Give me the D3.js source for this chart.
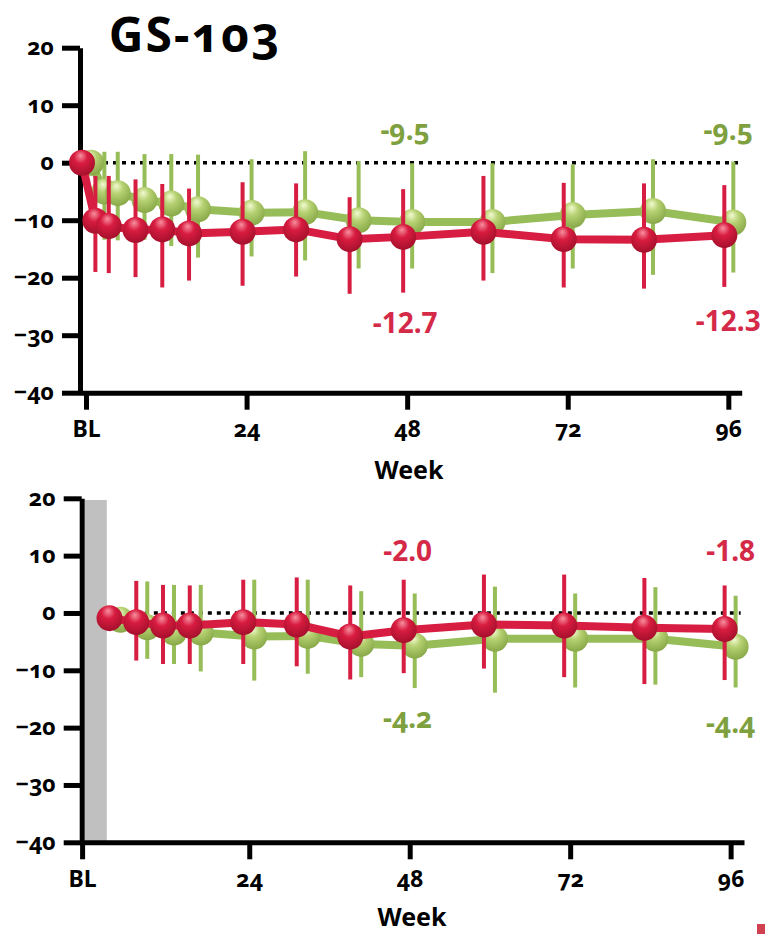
<!DOCTYPE html>
<html lang="en">
	<head>
		<meta charset="utf-8">
		<title>GS-103 change from baseline by week</title>
		<script type="text/javascript" src="https://d3js.org/d3.v7.min.js"></script>
		<style type="text/css">
			body {
				background-color: white;
				font-family: "Noto Sans", "Open Sans", sans-serif;
				margin: 0;
			}
			svg text {
				font-variant-numeric: oldstyle-nums;
			}
		</style>
	</head>
	<body>
		<script type="text/javascript">
			// weeks (0 = BL)
			var topWeeks = [0, 2, 4, 8, 12, 16, 24, 32, 40, 48, 60, 72, 84, 96];
			var bottomWeeks = [4, 8, 12, 16, 24, 32, 40, 48, 60, 72, 84, 96];

			// top panel, red series: mean and error bar ends
			var topRed   = [0, -10.1, -11.0, -11.7, -11.6, -12.3, -12.0, -11.6, -13.3, -12.9, -12.0, -13.3, -13.4, -12.6];
			var topRedHi = [0, -2.3, -2.3, -2.9, -3.7, -4.5, -3.4, -3.6, -6.0, -4.6, -2.3, -3.5, -3.6, -3.9];
			var topRedLo = [0, -19.0, -19.2, -19.9, -21.7, -20.5, -21.4, -19.8, -22.8, -22.6, -20.5, -21.7, -21.9, -21.6];

			// top panel, green series
			var topGreen   = [0, -5.0, -5.3, -6.5, -7.1, -8.1, -8.7, -8.6, -10.0, -10.3, -10.3, -9.1, -8.4, -10.4];
			var topGreenHi = [0, 1.9, 1.9, 1.5, 1.5, 1.4, 0.6, 2.0, 0.3, -0.1, -0.1, -0.3, 0.6, 0.2];
			var topGreenLo = [0, -13.4, -13.5, -13.4, -14.5, -16.5, -16.3, -17.0, -18.4, -18.4, -19.2, -18.4, -19.5, -19.1];

			// bottom panel, red series
			var botRed   = [-0.9, -1.6, -2.2, -2.2, -1.6, -2.0, -4.1, -3.0, -2.0, -2.2, -2.6, -2.8];
			var botRedHi = [-0.9, 5.6, 4.9, 4.8, 5.8, 6.2, 4.8, 5.8, 6.7, 6.7, 6.1, 4.8];
			var botRedLo = [-0.9, -8.3, -8.9, -8.9, -8.9, -9.3, -11.6, -10.5, -9.7, -11.2, -12.4, -11.7];

			// bottom panel, green series
			var botGreen   = [-1.2, -2.5, -3.4, -3.4, -4.1, -4.0, -5.4, -5.7, -4.5, -4.5, -4.5, -5.9];
			var botGreenHi = [-1.2, 5.5, 4.9, 4.9, 5.8, 5.8, 3.8, 3.4, 4.6, 3.4, 4.5, 3.0];
			var botGreenLo = [-1.2, -8.0, -8.9, -10.2, -11.8, -10.6, -11.2, -13.1, -13.9, -13.0, -12.5, -13.0];

			// annotated values at weeks 48 and 96
			var labelWeeks = [48, 96];
			var topRedLabels = ["-12.7", "-12.3"];
			var topGreenLabels = ["-9.5", "-9.5"];
			var botRedLabels = ["-2.0", "-1.8"];
			var botGreenLabels = ["-4.2", "-4.4"];

			// axes
			var yTicks = [20, 10, 0, -10, -20, -30, -40];
			var xTicks = [24, 48, 72, 96];
			var shadeWeeks = [-0.6, 2.7];

			var RED = "#d71d41";
			var GREEN = "#97bd58";

			var w = 765, h = 934;
			var svg = d3.select("body").append("svg")
				.attr("width", w)
				.attr("height", h);

			// sphere gradients
			var defs = svg.append("defs");
			function sphere(id, c0, c1, c2) {
				var g = defs.append("radialGradient")
					.attr("id", id)
					.attr("cx", "45%").attr("cy", "35%").attr("r", "65%")
					.attr("fx", "45%").attr("fy", "22%");
				g.append("stop").attr("offset", "0%").attr("stop-color", c0);
				g.append("stop").attr("offset", "40%").attr("stop-color", c1);
				g.append("stop").attr("offset", "100%").attr("stop-color", c2);
			}
			sphere("redBall", "#f8909f", "#d81c40", "#a5102c");
			sphere("greenBall", "#f2fad0", "#b6d172", "#88a848");

			// title
			svg.append("text")
				.attr("x", 195)
				.attr("y", 52)
				.attr("text-anchor", "middle")
				.style("font-size", "48px")
				.style("letter-spacing", "2px")
				.style("font-weight", 700)
				.text("GS-103");

			function panel(opt) {
				var x = d3.scaleLinear().domain([-1, 98]).range(opt.xRange);
				var y = d3.scaleLinear().domain([-40, 20]).range(opt.yRange);
				var g = svg.append("g");

				if (opt.shade) {
					g.append("rect")
						.attr("x", x(opt.shade[0]))
						.attr("y", y(19.7))
						.attr("width", x(opt.shade[1]) - x(opt.shade[0]))
						.attr("height", y(-40) - y(19.7))
						.attr("fill", "#c0c0c0");
				}

				// dotted zero line
				g.append("line")
					.attr("x1", x(opt.zeroStart)).attr("x2", x(97.5))
					.attr("y1", y(0)).attr("y2", y(0))
					.attr("stroke", "black")
					.attr("stroke-width", 3.5)
					.attr("stroke-dasharray", "4,5");

				// y axis
				var yAxis = g.append("g")
					.attr("transform", "translate(" + opt.yAxisX + ",0)")
					.call(d3.axisLeft(y).tickValues(yTicks).tickSize(18).tickSizeOuter(0));
				// x axis
				var xAxis = g.append("g")
					.attr("transform", "translate(0," + y(-40) + ")")
					.call(d3.axisBottom(x).tickValues([opt.blTick].concat(xTicks)).tickSize(17).tickSizeOuter(0)
						.tickFormat(function(d) { return d === opt.blTick ? "BL" : d; }));

				[yAxis, xAxis].forEach(function(a) {
					a.select(".domain").attr("stroke-width", 5).attr("stroke", "black");
					a.selectAll(".tick line").attr("stroke-width", 5).attr("stroke", "black");
					a.selectAll(".tick text")
						.attr("fill", "black")
						.style("font-family", "'Noto Sans', sans-serif")
						.style("font-size", "23px")
						.style("font-weight", 700);
				});
				yAxis.selectAll(".tick text").attr("x", -26).attr("dy", "0.3em");
				xAxis.selectAll(".tick text").attr("y", 28);

				g.append("text")
					.attr("x", opt.weekX)
					.attr("y", opt.weekY)
					.attr("text-anchor", "middle")
					.style("font-size", "25px")
					.style("font-weight", 700)
					.text("Week");

				function series(weeks, mean, hi, lo, dx, color, ball) {
					var pts = weeks.map(function(wk, i) {
						return { wk: wk, m: mean[i], hi: hi[i], lo: lo[i] };
					});
					var line = d3.line()
						.x(function(d) { return x(d.wk) + dx; })
						.y(function(d) { return y(d.m); });
					g.append("path")
						.datum(pts)
						.attr("d", line)
						.attr("fill", "none")
						.attr("stroke", color)
						.attr("stroke-width", 8)
						.attr("stroke-linejoin", "round");
					g.selectAll(null)
						.data(pts.filter(function(d) { return d.hi !== d.lo; }))
						.enter().append("line")
						.attr("x1", function(d) { return x(d.wk) + dx; })
						.attr("x2", function(d) { return x(d.wk) + dx; })
						.attr("y1", function(d) { return y(d.hi); })
						.attr("y2", function(d) { return y(d.lo); })
						.attr("stroke", color)
						.attr("stroke-width", 4);
					g.selectAll(null)
						.data(pts)
						.enter().append("circle")
						.attr("cx", function(d) { return x(d.wk) + dx; })
						.attr("cy", function(d) { return y(d.m); })
						.attr("r", 13)
						.attr("fill", "url(#" + ball + ")");
				}
				series(opt.weeks, opt.green, opt.greenHi, opt.greenLo, opt.greenDx, GREEN, "greenBall");
				series(opt.weeks, opt.red, opt.redHi, opt.redLo, opt.redDx, RED, "redBall");

				// value annotations
				function labels(texts, yVal, color, oldstyle) {
					g.selectAll(null)
						.data(texts)
						.enter().append("text")
						.attr("x", function(d, i) { return x(labelWeeks[i]) - (i === 0 ? 2 : 0); })
						.attr("y", function(d, i) { return y(yVal[i]); })
						.attr("text-anchor", "middle")
						.attr("fill", color)
						.style("font-size", "28px")
						.style("font-weight", 700)
						.style("font-variant-numeric", oldstyle ? "oldstyle-nums" : "lining-nums")
						.text(function(d) { return d; });
				}
				labels(opt.redLabels, opt.redLabelY, "#d42a48", false);
				labels(opt.greenLabels, opt.greenLabelY, "#7ea03e", true);
			}

			panel({
				xRange: [79.3, 741.7], yRange: [392.7, 47.7], yAxisX: 80,
				zeroStart: 0, blTick: 0, weekX: 409, weekY: 479,
				weeks: topWeeks,
				red: topRed, redHi: topRedHi, redLo: topRedLo, redDx: -4,
				green: topGreen, greenHi: topGreenHi, greenLo: topGreenLo, greenDx: 5,
				redLabels: topRedLabels, redLabelY: [-29.7, -29.2],
				greenLabels: topGreenLabels, greenLabelY: [4, 4]
			});

			panel({
				xRange: [82.1, 744], yRange: [842.3, 498.3], yAxisX: 81.7,
				zeroStart: 3, blTick: -1, weekX: 412, weekY: 926,
				shade: shadeWeeks,
				weeks: bottomWeeks,
				red: botRed, redHi: botRedHi, redLo: botRedLo, redDx: -6,
				green: botGreen, greenHi: botGreenHi, greenLo: botGreenLo, greenDx: 5,
				redLabels: botRedLabels, redLabelY: [9, 9],
				greenLabels: botGreenLabels, greenLabelY: [-20.1, -21]
			});

			// small mark in the lower right corner
			svg.append("rect")
				.attr("x", 757).attr("y", 924)
				.attr("width", 8).attr("height", 10)
				.attr("fill", "#d04050");
		</script>
	</body>
</html>
